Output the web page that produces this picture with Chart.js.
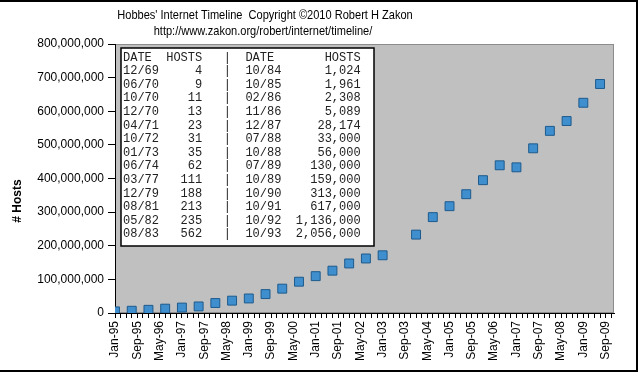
<!DOCTYPE html>
<html>
<head>
<meta charset="utf-8">
<script src="https://cdn.jsdelivr.net/npm/chart.js@4"></script>
<style>
  html, body { margin: 0; padding: 0; background: #fff; }
  #wrap { width: 641px; height: 375px; }
</style>
</head>
<body>
<div id="wrap"><canvas id="hostChart" width="641" height="375"></canvas></div>
<script>
// survey dates and host counts
var surveyDates = ['Jan-95', 'Jul-95', 'Jan-96', 'Jul-96', 'Jan-97', 'Jul-97', 'Jan-98', 'Jul-98',
    'Jan-99', 'Jul-99', 'Jan-00', 'Jul-00', 'Jan-01', 'Jul-01', 'Jan-02', 'Jul-02', 'Jan-03',
    'Jan-04', 'Jul-04', 'Jan-05', 'Jul-05', 'Jan-06', 'Jul-06', 'Jan-07', 'Jul-07',
    'Jan-08', 'Jul-08', 'Jan-09', 'Jul-09'];
var hostCounts = [4852000, 6642000, 9472000, 12881000, 16146000, 19540000, 29670000, 36739000,
    43230000, 56218000, 72398092, 93047785, 109574429, 125888197, 147344723, 162128493, 171638297,
    233101481, 285139107, 317646084, 353284187, 394991609, 439286364, 433193199, 489774269,
    541677360, 570937778, 625226456, 681064561];

// the early history table in the box
var earlyDates = ['12/69', '06/70', '10/70', '12/70', '04/71', '10/72', '01/73', '06/74', '03/77', '12/79', '08/81', '05/82', '08/83'];
var earlyHosts = ['4', '9', '11', '13', '23', '31', '35', '62', '111', '188', '213', '235', '562'];
var laterDates = ['10/84', '10/85', '02/86', '11/86', '12/87', '07/88', '10/88', '07/89', '10/89', '10/90', '10/91', '10/92', '10/93'];
var laterHosts = ['1,024', '1,961', '2,308', '5,089', '28,174', '33,000', '56,000', '130,000', '159,000', '313,000', '617,000', '1,136,000', '2,056,000'];

var titleLines = ["Hobbes' Internet Timeline  Copyright \u00A92010 Robert H Zakon", 'http://www.zakon.org/robert/internet/timeline/'];
var yTitle = '# Hosts';

var monthNames = ['Jan', 'Feb', 'Mar', 'Apr', 'May', 'Jun', 'Jul', 'Aug', 'Sep', 'Oct', 'Nov', 'Dec'];
var SANS = "'Liberation Sans', Arial, sans-serif";

// months since Jan-95
function monthIndex(label) {
    var parts = label.split('-');
    var yy = parseInt(parts[1], 10);
    var year = yy >= 50 ? 1900 + yy : 2000 + yy;
    return (year - 1995) * 12 + monthNames.indexOf(parts[0]);
}

function monthLabel(idx) {
    var year = 1995 + Math.floor(idx / 12);
    return monthNames[idx % 12] + '-' + String(year % 100).padStart(2, '0');
}

var points = surveyDates.map(function (d, i) {
    return { x: monthIndex(d), y: hostCounts[i] };
});

var decorPlugin = {
    id: 'decor',
    beforeDraw: function (chart) {
        var ctx = chart.ctx;
        var a = chart.chartArea;
        ctx.save();
        ctx.fillStyle = '#ffffff';
        ctx.fillRect(0, 0, chart.width, chart.height);
        ctx.fillStyle = '#c0c0c0';
        ctx.fillRect(a.left, a.top, a.right - a.left, a.bottom - a.top);
        ctx.strokeStyle = '#8c8c8c';
        ctx.lineWidth = 1;
        ctx.strokeRect(a.left + 0.5, a.top + 0.5, a.right - a.left - 1, a.bottom - a.top - 1);
        ctx.restore();
    },
    afterDraw: function (chart) {
        var ctx = chart.ctx;
        var a = chart.chartArea;
        ctx.save();

        // titles (slightly condensed like the original)
        ctx.fillStyle = '#000';
        ctx.font = '13px ' + SANS;
        ctx.textAlign = 'center';
        ctx.textBaseline = 'middle';
        ctx.save();
        ctx.scale(0.85, 1);
        ctx.fillText(titleLines[0], 265 / 0.85, 15);
        ctx.fillText(titleLines[1], 263 / 0.85, 31);
        ctx.restore();

        // y axis title
        ctx.save();
        ctx.translate(18, 201);
        ctx.rotate(-Math.PI / 2);
        ctx.font = 'bold 12px ' + SANS;
        ctx.fillText(yTitle, 0, 0);
        ctx.restore();

        // table box
        var bx = a.left + 6, by = a.top + 4, bw = 253, bh = 198;
        ctx.fillStyle = '#fff';
        ctx.fillRect(bx, by, bw, bh);
        ctx.strokeStyle = '#000';
        ctx.lineWidth = 1.5;
        ctx.strokeRect(bx, by, bw, bh);

        ctx.fillStyle = '#222';
        ctx.font = "12px 'Liberation Mono', 'Courier New', monospace";
        ctx.textAlign = 'left';
        var rows = ['DATE  HOSTS   |  DATE       HOSTS'];
        for (var i = 0; i < earlyDates.length; i++) {
            rows.push(earlyDates[i] + earlyHosts[i].padStart(6) + '   |  ' + laterDates[i] + laterHosts[i].padStart(11));
        }
        rows.forEach(function (r, i) {
            ctx.fillText(r, bx + 2, by + 9.5 + i * 13.6);
        });

        // outer frame
        ctx.strokeStyle = '#000';
        ctx.lineWidth = 2;
        ctx.beginPath();
        ctx.moveTo(0, 1);
        ctx.lineTo(637, 1);
        ctx.lineTo(637, 371);
        ctx.lineTo(0, 371);
        ctx.stroke();
        ctx.restore();
    }
};

var ctx = document.getElementById('hostChart').getContext('2d');
new Chart(ctx, {
    type: 'scatter',
    data: {
        datasets: [{
            label: 'Hosts',
            data: points,
            pointStyle: 'rect',
            pointRadius: 6.3,
            pointHoverRadius: 6.3,
            backgroundColor: '#3f8fcf',
            borderColor: '#1d5a8c',
            borderWidth: 1,
            showLine: false
        }]
    },
    options: {
        responsive: false,
        animation: false,
        layout: { padding: { top: 44, right: 27, left: 0, bottom: 0 } },
        plugins: {
            legend: { display: false },
            title: { display: false },
            tooltip: { enabled: false }
        },
        scales: {
            x: {
                type: 'linear',
                min: 0,
                max: 179,
                afterBuildTicks: function (scale) {
                    var t = [];
                    for (var v = 0; v <= 178; v += 2) t.push({ value: v });
                    scale.ticks = t;
                },
                afterFit: function (scale) { scale.height = 62; },
                grid: { drawOnChartArea: false, color: '#000', tickLength: 5 },
                border: { color: '#000', width: 1 },
                ticks: {
                    autoSkip: false,
                    minRotation: 90,
                    maxRotation: 90,
                    padding: 3,
                    color: '#000',
                    font: { family: SANS, size: 12 },
                    callback: function (value) {
                        return value % 8 === 0 ? monthLabel(value) : '';
                    }
                }
            },
            y: {
                min: 0,
                max: 800000000,
                afterFit: function (scale) { scale.width = 115; },
                grid: { drawOnChartArea: false, color: '#000', tickLength: 7 },
                border: { color: '#000', width: 1 },
                ticks: {
                    stepSize: 100000000,
                    padding: 4,
                    color: '#000',
                    font: { family: SANS, size: 12 },
                    callback: function (value) {
                        return value.toLocaleString('en-US');
                    }
                }
            }
        }
    },
    plugins: [decorPlugin]
});
</script>
</body>
</html>
